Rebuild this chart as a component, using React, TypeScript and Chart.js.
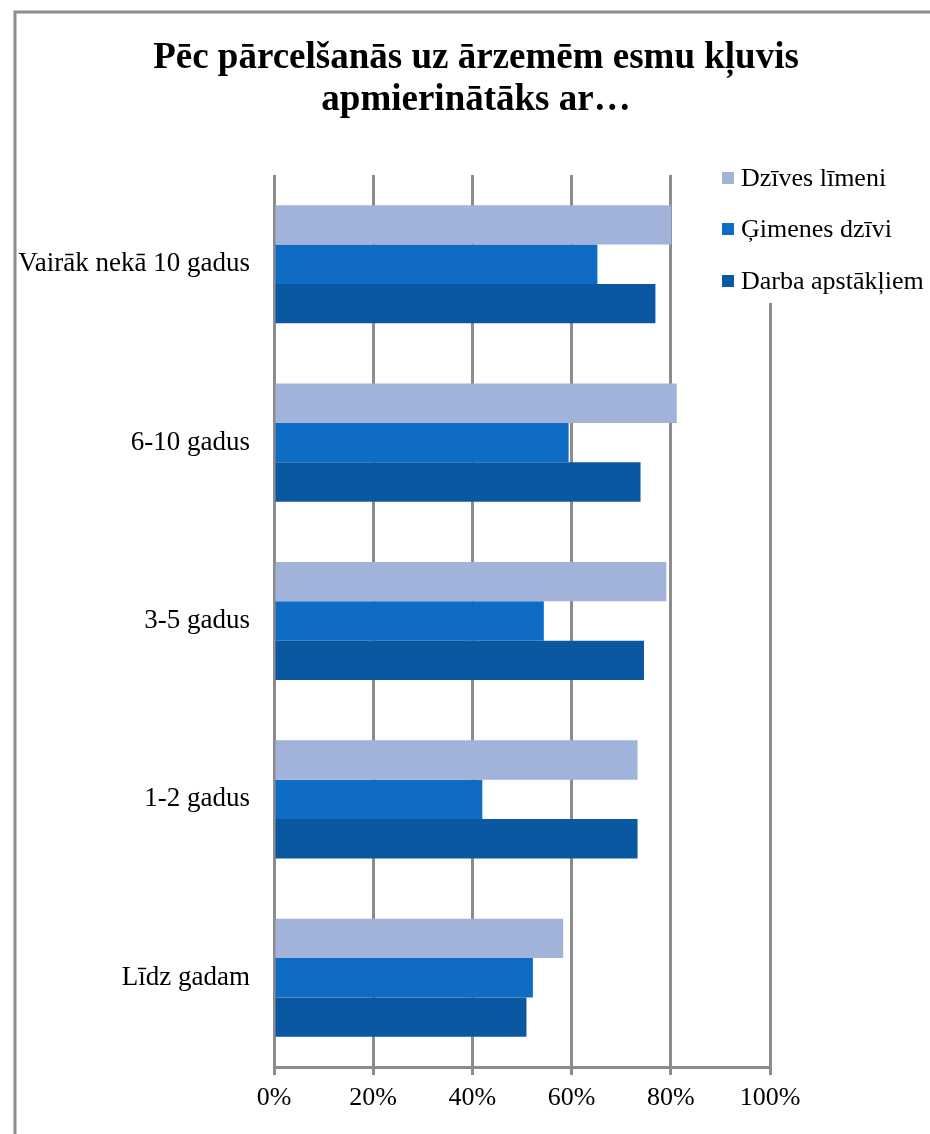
import React, { useEffect, useRef } from "react";
import { Chart, registerables } from "chart.js";

Chart.register(...registerables);

const titleLines = ["Pēc pārcelšanās uz ārzemēm esmu kļuvis", "apmierinātāks ar…"];
const categories = ["Vairāk nekā 10 gadus", "6-10 gadus", "3-5 gadus", "1-2 gadus", "Līdz gadam"];
const seriesNames = ["Dzīves līmeni", "Ģimenes dzīvi", "Darba apstākļiem"];
const dzivesLimeni = [80.1, 81.2, 79.1, 73.3, 58.3];
const gimenesDzivi = [65.2, 59.4, 54.4, 42.0, 52.2];
const darbaApstakliem = [76.9, 73.9, 74.6, 73.3, 50.9];
const xTicks = [0, 20, 40, 60, 80, 100];
const seriesColors = ["#A1B3DB", "#0F6CC4", "#0A58A1"];

const FONT = "'Liberation Serif', 'Times New Roman', serif";
const GRID = "#8c8c8c";

const overlayPlugin = {
  id: "overlay",
  afterDraw(chart: any) {
    const ctx = chart.ctx;
    ctx.save();
    // legend background (covers the top of the 100% gridline)
    ctx.fillStyle = "#ffffff";
    ctx.fillRect(700, 160, 230, 143);
    // legend items
    const ys = [178, 229, 281];
    ctx.font = `26px ${FONT}`;
    ctx.textBaseline = "middle";
    ctx.textAlign = "left";
    seriesNames.forEach((name, i) => {
      ctx.fillStyle = seriesColors[i];
      ctx.fillRect(722, ys[i] - 6, 12, 12);
      ctx.fillStyle = "#000000";
      ctx.fillText(name, 741, ys[i] + 1);
    });
    // title
    ctx.font = `bold 37px ${FONT}`;
    ctx.textAlign = "center";
    ctx.textBaseline = "alphabetic";
    ctx.fillStyle = "#000000";
    ctx.fillText(titleLines[0], 476, 68);
    ctx.fillText(titleLines[1], 476, 110);
    // frame
    ctx.strokeStyle = GRID;
    ctx.lineWidth = 3;
    ctx.beginPath();
    ctx.moveTo(15, 1150);
    ctx.lineTo(15, 12);
    ctx.lineTo(950, 12);
    ctx.stroke();
    ctx.restore();
  },
};

export default function App() {
  const ref = useRef<HTMLCanvasElement | null>(null);

  useEffect(() => {
    if (!ref.current) return;
    const chart = new Chart(ref.current, {
      type: "bar",
      data: {
        labels: categories,
        datasets: [
          { label: seriesNames[0], data: dzivesLimeni, backgroundColor: seriesColors[0] },
          { label: seriesNames[1], data: gimenesDzivi, backgroundColor: seriesColors[1] },
          { label: seriesNames[2], data: darbaApstakliem, backgroundColor: seriesColors[2] },
        ],
      },
      options: {
        indexAxis: "y",
        responsive: false,
        animation: false,
        events: [],
        datasets: {
          bar: { categoryPercentage: 0.662, barPercentage: 1, borderWidth: 0 },
        },
        layout: { padding: { top: 175, right: 160, bottom: 17, left: 0 } },
        plugins: {
          legend: { display: false },
          title: { display: false },
          tooltip: { enabled: false },
        },
        scales: {
          x: {
            type: "linear",
            min: 0,
            max: 100,
            afterBuildTicks: (axis: any) => {
              axis.ticks = xTicks.map((v) => ({ value: v }));
            },
            afterFit: (axis: any) => {
              axis.height = 50;
            },
            ticks: {
              callback: (v: any) => `${v}%`,
              font: { family: FONT, size: 26 },
              color: "#000000",
              padding: 8,
              maxRotation: 0,
            },
            grid: { color: GRID, lineWidth: 3, tickLength: 8, drawTicks: true },
            border: { display: true, color: GRID, width: 3 },
          },
          y: {
            type: "category",
            afterFit: (axis: any) => {
              axis.width = 274;
            },
            ticks: {
              font: { family: FONT, size: 27 },
              color: "#000000",
              padding: 24,
            },
            grid: { display: false, drawTicks: false },
            border: { display: false },
          },
        },
      },
      plugins: [overlayPlugin],
    });
    return () => chart.destroy();
  }, []);

  return (
    <div style={{ position: "absolute", left: 0, top: 0, width: 930, height: 1134, background: "#fff" }}>
      <canvas ref={ref} width={930} height={1134} />
    </div>
  );
}
